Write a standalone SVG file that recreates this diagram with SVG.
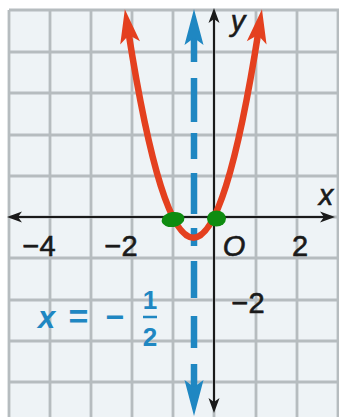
<svg xmlns="http://www.w3.org/2000/svg" width="339" height="417" viewBox="0 0 339 417">
  <style>
    .grid { stroke: #b6bcbf; stroke-width: 2.8; fill: none; }
    .axis { stroke: #1a1a1a; stroke-width: 2; fill: none; }
    .axhead { fill: #1a1a1a; }
    .sym { stroke: #1f87c2; stroke-width: 6.5; fill: none; }
    .symhead { fill: #1f87c2; }
    .curve { stroke: #e4401f; stroke-width: 6.5; fill: none; }
    .lbl { font-family: "Liberation Sans", Arial, sans-serif; font-size: 29px; fill: #1a1a1a; stroke: #1a1a1a; stroke-width: 0.6; text-anchor: middle; }
    .it { font-style: italic; }
    .blue { font-family: "Liberation Sans", Arial, sans-serif; font-weight: bold; fill: #1f87c2; text-anchor: middle; }
    .dot { fill: #0e8c10; }
  </style>
  <defs>
    <marker id="redArrow" markerUnits="userSpaceOnUse" viewBox="-40 -15 60 30" markerWidth="60" markerHeight="30" refX="-21" refY="0" orient="auto-start-reverse" overflow="visible">
      <path d="M0,0 L-34,-10 L-26,0 L-34,10 Z" fill="#e4401f"/>
    </marker>
  </defs>

  <rect x="0" y="0" width="339" height="417" fill="#ffffff"/>
  <rect x="9" y="10" width="330" height="407" fill="#eef3f6"/>

  <g id="grid" class="grid">
    <path d="M9,10V417 M50,10V417 M91,10V417 M132,10V417 M173,10V417 M214,10V417 M256,10V417 M297,10V417 M338,10V417"/>
    <path d="M9,10H339 M9,52H339 M9,93H339 M9,135H339 M9,176H339 M9,217H339 M9,258H339 M9,300H339 M9,341H339 M9,382H339"/>
  </g>

  <g id="axes">
    <path class="axis" d="M16,217H327 M214,17V404"/>
    <polygon class="axhead" points="7,217 22,211.5 18,217 22,222.5"/>
    <polygon class="axhead" points="335,217 320,211.5 324,217 320,222.5"/>
    <polygon class="axhead" points="214,8 208.5,23 214,19 219.5,23"/>
    <polygon class="axhead" points="214,413 208.5,398 214,402 219.5,398"/>
  </g>

  <g id="symmetry-line">
    <path class="sym" d="M194,36V62 M194,78V122 M194,133V159 M194,173V214 M194,228V246 M194,261V298 M194,316V348 M194,364V389"/>
    <polygon class="symhead" points="194,9 184.5,45 194,38 203.5,45"/>
    <polygon class="symhead" points="194,416 184.5,380 194,387 203.5,380"/>
  </g>

  <g id="parabola">
    <path class="curve" d="M128.1,30 Q193.4,445.3 258.7,30" marker-start="url(#redArrow)" marker-end="url(#redArrow)"/>
  </g>

  <g id="intercepts">
    <ellipse class="dot" cx="173" cy="219.5" rx="11.5" ry="7.5" transform="rotate(-8 173 219.5)"/>
    <ellipse class="dot" cx="216.5" cy="218.5" rx="9.5" ry="8"/>
  </g>

  <g id="labels">
    <text class="lbl it" x="238" y="31">y</text>
    <text class="lbl it" x="326" y="205">x</text>
    <text class="lbl" x="39" y="256">−4</text>
    <text class="lbl" x="121" y="256">−2</text>
    <text class="lbl it" x="234" y="256">O</text>
    <text class="lbl" x="300" y="256">2</text>
    <text class="lbl" x="248" y="313">−2</text>
  </g>

  <g id="equation">
    <text class="blue it" x="46.5" y="328" font-size="31">x</text>
    <text class="blue" x="78.5" y="328" font-size="34">=</text>
    <text class="blue" x="115" y="328" font-size="32">−</text>
    <text class="blue" x="150" y="309" font-size="26">1</text>
    <path d="M143,317H157" stroke="#1f87c2" stroke-width="2.5"/>
    <text class="blue" x="150" y="346" font-size="26">2</text>
  </g>
</svg>
